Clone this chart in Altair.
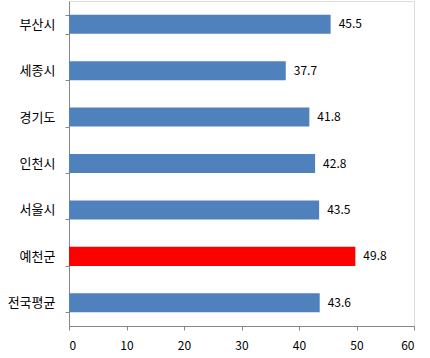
import altair as alt
import pandas as pd

regions = ["부산시", "세종시", "경기도", "인천시", "서울시", "예천군", "전국평균"]
values = [45.5, 37.7, 41.8, 42.8, 43.5, 49.8, 43.6]
colors = ["#4F81BD", "#4F81BD", "#4F81BD", "#4F81BD", "#4F81BD", "#FF0000", "#4F81BD"]
x_ticks = [0, 10, 20, 30, 40, 50, 60]

df = pd.DataFrame({"region": regions, "value": values, "color": colors})

font = "Noto Sans CJK KR"

y_enc = alt.Y("region:N", sort=regions, scale=alt.Scale(paddingInner=0.59, paddingOuter=0.295),
              axis=alt.Axis(title=None, domainColor="#868686", tickColor="#868686", tickSize=4,
                            tickBand="extent", labelPadding=10, labelFont=font, labelFontSize=13,
                            labelFontWeight=400, labelColor="#000000"))
x_enc = alt.X("value:Q", scale=alt.Scale(domain=[0, 60], nice=False),
              axis=alt.Axis(title=None, values=x_ticks, grid=False, domainColor="#868686",
                            tickColor="#868686", tickSize=4, labelPadding=10, labelFont=font,
                            labelFontSize=12, labelFontWeight=400, labelColor="#000000"))

base = alt.Chart(df)
bars = base.mark_bar().encode(x=x_enc, y=y_enc, color=alt.Color("color:N", scale=None))
text = base.mark_text(align="left", baseline="middle", dx=8, font=font, fontSize=12,
                      fontWeight=400, color="#000000").encode(
    x="value:Q", y=alt.Y("region:N", sort=regions), text=alt.Text("value:Q", format=".1f"))

chart = (bars + text).properties(
    width=345, height=325,
    autosize=alt.AutoSizeParams(type="none"),
    padding={"left": 69, "top": 1, "right": 16, "bottom": 32},
).configure_view(stroke=None).configure(background="white")

chart.save("out.html", embed_options={"renderer": "svg", "actions": False})
